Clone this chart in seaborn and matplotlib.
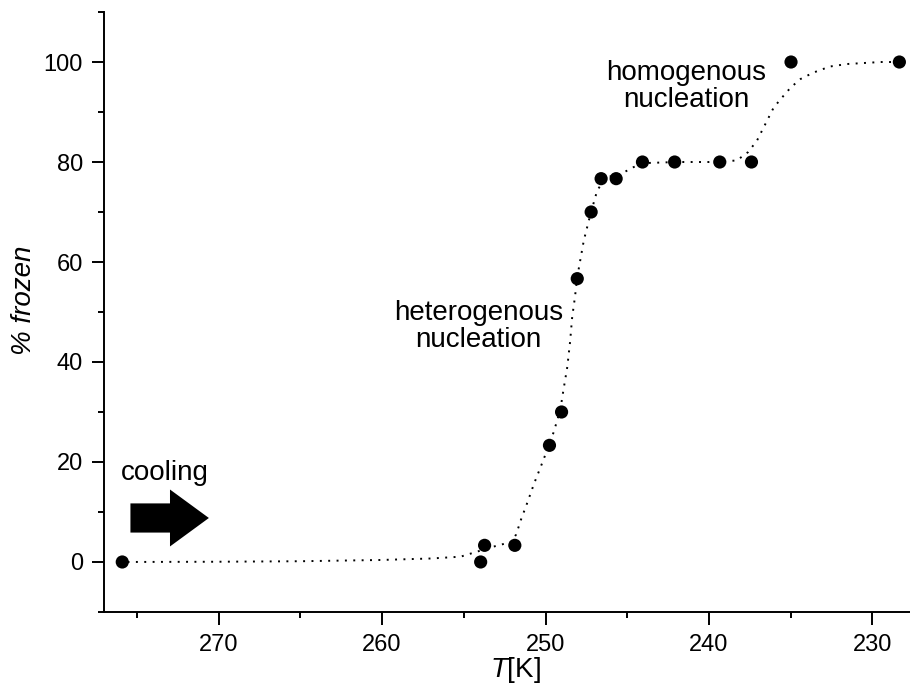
"""Percentage of frozen droplets versus temperature, with nucleation steps."""
import matplotlib

matplotlib.use("Agg")
import matplotlib.pyplot as plt
import pandas as pd
import seaborn as sns
from matplotlib.ticker import MultipleLocator

# measured points
temp_k = [275.9, 253.97, 253.73, 251.88, 249.76, 249.02, 248.06, 247.21,
          246.6, 245.68, 244.07, 242.1, 239.34, 237.4, 234.98, 228.35]
frozen = [0, 0, 3.33, 3.33, 23.33, 30, 56.67, 70,
          76.67, 76.67, 80, 80, 80, 80, 100, 100]

# dotted fit curve
curve_t = [275.9, 270, 265, 260.1, 257, 255.2, 254.2, 253.2, 252.1, 251.8,
           251.5, 251.1, 250.7, 250.3, 249.9, 249.5, 249.1, 248.9, 248.67,
           248.5, 248.37, 248.2, 248.06, 247.66, 247.25, 246.84, 246.5, 246.2,
           245.4, 244.6, 243.8, 242, 240, 238.3, 237.6, 237.06, 236.55, 236.04,
           235.53, 235.0, 234.4, 233.6, 232.6, 231.55, 229.5, 228.35]
curve_y = [0, 0.05, 0.15, 0.4, 0.7, 1.06, 2.06, 3.06, 4.0, 5.5,
           8.5, 12, 15.7, 19, 22.4, 26, 30.4, 34.5, 39,
           44, 49, 53, 57, 64.3, 69.6, 74.3, 76, 77,
           77.6, 79, 79.8, 80, 80, 80.3, 82, 84.3, 87.6, 90.9,
           92.9, 94.9, 96.6, 97.9, 99.1, 99.6, 100, 100]

pts = pd.DataFrame({"T": temp_k, "frozen": frozen})
fit = pd.DataFrame({"T": curve_t, "frozen": curve_y})

sns.set_style("ticks")
plt.rcParams["font.family"] = ["Liberation Sans", "DejaVu Sans"]
plt.rcParams["text.color"] = "black"
plt.rcParams["axes.labelcolor"] = "black"
plt.rcParams["mathtext.fontset"] = "custom"
plt.rcParams["mathtext.rm"] = "Liberation Sans"
plt.rcParams["mathtext.it"] = "Liberation Sans:italic"

fig = plt.figure(figsize=(9.1, 6.87), dpi=100)
ax = fig.add_axes([0.1146, 0.1092, 0.8854, 0.8733])

sns.lineplot(data=fit, x="T", y="frozen", color="black", lw=1.4,
             linestyle=(0, (1, 3.3)), ax=ax)
sns.scatterplot(data=pts, x="T", y="frozen", color="black", s=90,
                edgecolor="none", zorder=3, ax=ax)

ax.set_xlim(277, 227.7)
ax.set_ylim(-10, 110)
ax.xaxis.set_major_locator(MultipleLocator(10))
ax.xaxis.set_minor_locator(MultipleLocator(5))
ax.yaxis.set_major_locator(MultipleLocator(20))
ax.yaxis.set_minor_locator(MultipleLocator(10))

for side in ("top", "right"):
    ax.spines[side].set_visible(False)
for side in ("left", "bottom"):
    ax.spines[side].set_linewidth(1.4)
    ax.spines[side].set_color("black")

ax.tick_params(which="major", length=9, width=1.4, labelsize=17, pad=6.5,
               color="black", labelcolor="black")
ax.tick_params(which="minor", length=4.3, width=1.4, color="black")

ax.set_xlabel("$\\mathit{T}$[K]", fontsize=20)
ax.set_ylabel("% frozen", fontsize=20, style="italic")
ax.xaxis.set_label_coords(0.51, -0.072)
ax.yaxis.set_label_coords(-0.083, 0.52)

ax.text(254.1, 47, "heterogenous\nnucleation", fontsize=20,
        ha="center", va="center", linespacing=1.05)
ax.text(241.4, 95.2, "homogenous\nnucleation", fontsize=20,
        ha="center", va="center", linespacing=1.05)
ax.text(273.3, 17.8, "cooling", fontsize=20, ha="center", va="center")

ax.annotate("", xy=(270.6, 8.8), xytext=(275.4, 8.8),
            arrowprops=dict(arrowstyle="simple,head_length=28,head_width=41,tail_width=21",
                            mutation_scale=1, fc="black", ec="black", lw=0,
                            shrinkA=0, shrinkB=0))

fig.savefig("out.png", dpi=100)
